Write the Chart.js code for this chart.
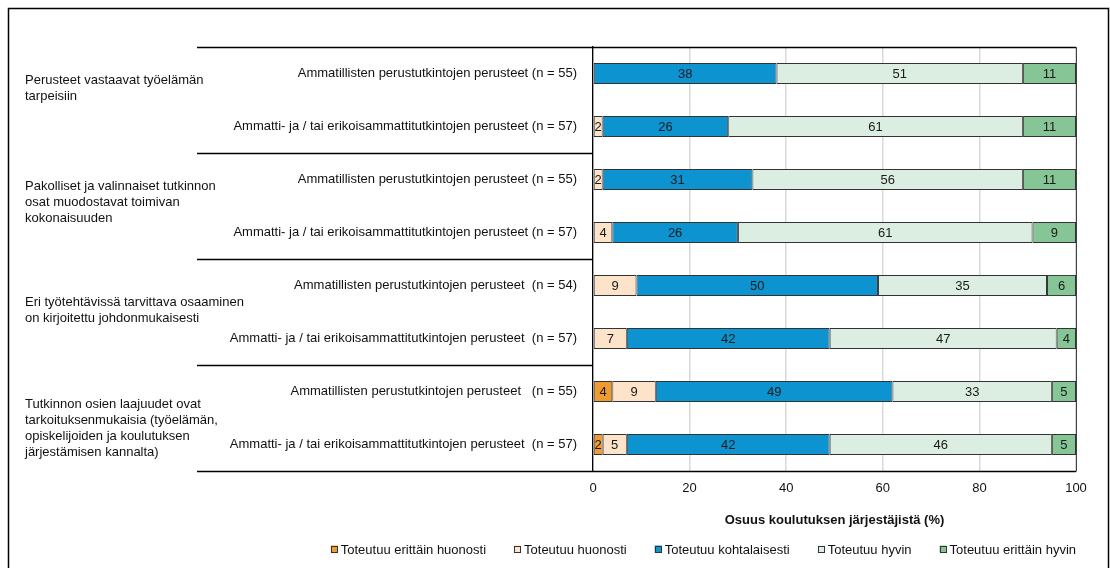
<!DOCTYPE html>
<html>
<head>
<meta charset="utf-8">
<script src="https://cdn.jsdelivr.net/npm/chart.js@4/dist/chart.umd.min.js"></script>
<style>
  html, body { margin: 0; padding: 0; background: #fff; }
  #wrap { position: relative; width: 1110px; height: 568px; }
</style>
</head>
<body>
<div id="wrap"><canvas id="c" width="1110" height="568"></canvas></div>
<script>
// Rows (sub-labels on the y axis), top to bottom
const rowLabels = [
  'Ammatillisten perustutkintojen perusteet (n = 55)',
  'Ammatti- ja / tai erikoisammattitutkintojen perusteet (n = 57)',
  'Ammatillisten perustutkintojen perusteet (n = 55)',
  'Ammatti- ja / tai erikoisammattitutkintojen perusteet (n = 57)',
  'Ammatillisten perustutkintojen perusteet  (n = 54)',
  'Ammatti- ja / tai erikoisammattitutkintojen perusteet  (n = 57)',
  'Ammatillisten perustutkintojen perusteet   (n = 55)',
  'Ammatti- ja / tai erikoisammattitutkintojen perusteet  (n = 57)'
];

// Statement groups, each covering two rows
const groupLabels = [
  ['Perusteet vastaavat työelämän', 'tarpeisiin'],
  ['Pakolliset ja valinnaiset tutkinnon', 'osat muodostavat toimivan', 'kokonaisuuden'],
  ['Eri työtehtävissä tarvittava osaaminen', 'on kirjoitettu johdonmukaisesti'],
  ['Tutkinnon osien laajuudet ovat', 'tarkoituksenmukaisia (työelämän,', 'opiskelijoiden ja koulutuksen', 'järjestämisen kannalta)']
];

const seriesNames = [
  'Toteutuu erittäin huonosti',
  'Toteutuu huonosti',
  'Toteutuu kohtalaisesti',
  'Toteutuu hyvin',
  'Toteutuu erittäin hyvin'
];

// Shares of providers (%) per answer option
const erittainHuonosti = [0, 0, 0, 0, 0, 0, 4, 2];
const huonosti         = [0, 2, 2, 4, 9, 7, 9, 5];
const kohtalaisesti    = [38, 26, 31, 26, 50, 42, 49, 42];
const hyvin            = [51, 61, 56, 61, 35, 47, 33, 46];
const erittainHyvin    = [11, 11, 11, 9, 6, 4, 5, 5];

const xTicks = [0, 20, 40, 60, 80, 100];
const xTitle = 'Osuus koulutuksen järjestäjistä (%)';

const colors = ['#F09B2F', '#FDE3C9', '#0E93D1', '#DCEDE2', '#85C596'];
const FONT = 'Liberation Sans, Arial, sans-serif';
const FS = 13;

const seriesValues = [erittainHuonosti, huonosti, kohtalaisesti, hyvin, erittainHyvin];

// Outer frame, group separators, plot frame and group captions
const framePlugin = {
  id: 'frame',
  beforeDraw(chart) {
    const ctx = chart.ctx;
    ctx.save();
    ctx.fillStyle = '#fff';
    ctx.fillRect(0, 0, chart.width, chart.height);
    ctx.strokeStyle = '#000';
    ctx.lineWidth = 1.5;
    ctx.strokeRect(8.5, 8.5, 1100, 700);
    ctx.restore();
  },
  afterDraw(chart) {
    const ctx = chart.ctx;
    const a = chart.chartArea;
    const y = chart.scales.y;
    const half = (y.getPixelForValue(1) - y.getPixelForValue(0)) / 2;
    const sepLeft = 197;
    ctx.save();
    // plot frame top / right
    ctx.strokeStyle = '#404040';
    ctx.lineWidth = 1;
    ctx.beginPath();
    ctx.moveTo(a.left, Math.round(a.top) + 0.5);
    ctx.lineTo(Math.round(a.right) + 0.5, Math.round(a.top) + 0.5);
    ctx.lineTo(Math.round(a.right) + 0.5, Math.round(a.bottom) + 0.5);
    ctx.stroke();
    // group separators
    ctx.strokeStyle = '#000';
    ctx.lineWidth = 1.3;
    for (let g = 0; g <= groupLabels.length; g++) {
      const py = Math.round(y.getPixelForValue(g * 2) - half) + 0.5;
      const right = (g === 0 || g === groupLabels.length) ? a.right : a.left;
      ctx.beginPath();
      ctx.moveTo(sepLeft, py);
      ctx.lineTo(right, py);
      ctx.stroke();
    }
    // group captions
    const shift = [-12, -4, -2, 10];
    ctx.fillStyle = '#111';
    ctx.font = FS + 'px ' + FONT;
    ctx.textAlign = 'left';
    ctx.textBaseline = 'middle';
    const lh = 16;
    groupLabels.forEach((lines, g) => {
      const cy = (y.getPixelForValue(g * 2) + y.getPixelForValue(g * 2 + 1)) / 2 + shift[g];
      const y0 = cy - (lines.length - 1) * lh / 2;
      lines.forEach((t, i) => ctx.fillText(t, 25, y0 + i * lh));
    });
    ctx.restore();
  }
};

// Legend row under the axis title, right-aligned with the plot
const legendPlugin = {
  id: 'legendRow',
  afterDraw(chart) {
    const ctx = chart.ctx;
    const box = 7, gapText = 3, gapItem = 28;
    const cy = chart.height - 19;
    ctx.save();
    ctx.font = FS + 'px ' + FONT;
    ctx.textBaseline = 'middle';
    ctx.textAlign = 'left';
    const items = chart.data.datasets.map(ds => ({
      text: ds.label, color: ds.backgroundColor, w: ctx.measureText(ds.label).width
    }));
    const total = items.reduce((s, it) => s + box + gapText + it.w, 0) + gapItem * (items.length - 1);
    let x = chart.chartArea.right - total;
    items.forEach(it => {
      ctx.fillStyle = it.color;
      ctx.fillRect(x, cy - box / 2, box, box);
      ctx.strokeStyle = '#333';
      ctx.lineWidth = 1;
      ctx.strokeRect(Math.round(x) + 0.5, Math.round(cy - box / 2) + 0.5, box - 1, box - 1);
      ctx.fillStyle = '#111';
      ctx.fillText(it.text, x + box + gapText, cy + 1);
      x += box + gapText + it.w + gapItem;
    });
    ctx.restore();
  }
};

// Value labels centred in each segment
const valuePlugin = {
  id: 'values',
  afterDatasetsDraw(chart) {
    const ctx = chart.ctx;
    ctx.save();
    ctx.font = FS + 'px ' + FONT;
    ctx.fillStyle = '#1a1a1a';
    ctx.textAlign = 'center';
    ctx.textBaseline = 'middle';
    chart.data.datasets.forEach((ds, di) => {
      const meta = chart.getDatasetMeta(di);
      meta.data.forEach((bar, i) => {
        const v = ds.data[i];
        if (!v) return;
        const x = (bar.x + bar.base) / 2;
        ctx.fillText(String(v), x, bar.y + 1);
      });
    });
    ctx.restore();
  }
};

new Chart(document.getElementById('c'), {
  type: 'bar',
  data: {
    labels: rowLabels,
    datasets: seriesNames.map((name, i) => ({
      label: name,
      data: seriesValues[i],
      backgroundColor: colors[i],
      borderColor: '#333',
      borderWidth: 1,
      borderSkipped: false,
      categoryPercentage: 1,
      barPercentage: 0.4
    }))
  },
  options: {
    indexAxis: 'y',
    responsive: false,
    animation: false,
    devicePixelRatio: 1,
    layout: { padding: { top: 47, right: 34, bottom: 0, left: 0 } },
    scales: {
      x: {
        stacked: true,
        min: 0,
        max: 100,
        afterBuildTicks(scale) { scale.ticks = xTicks.map(v => ({ value: v })); },
        afterFit(scale) { scale.height = 97; },
        ticks: { font: { family: FONT, size: FS }, color: '#111', padding: 10 },
        grid: { color: '#d9d9d9', lineWidth: 1.5, drawTicks: false },
        border: { display: false },
        title: {
          display: true,
          text: xTitle,
          font: { family: FONT, size: FS, weight: 'bold' },
          color: '#111',
          padding: { top: 9, bottom: 40 }
        }
      },
      y: {
        stacked: true,
        afterFit(scale) { scale.width = 593; },
        ticks: { font: { family: FONT, size: FS }, color: '#111', padding: 16 },
        grid: { display: false, drawTicks: false },
        border: { display: true, color: '#000', width: 1.3 }
      }
    },
    plugins: {
      legend: { display: false },
      tooltip: { enabled: false }
    }
  },
  plugins: [framePlugin, valuePlugin, legendPlugin]
});
</script>
</body>
</html>
